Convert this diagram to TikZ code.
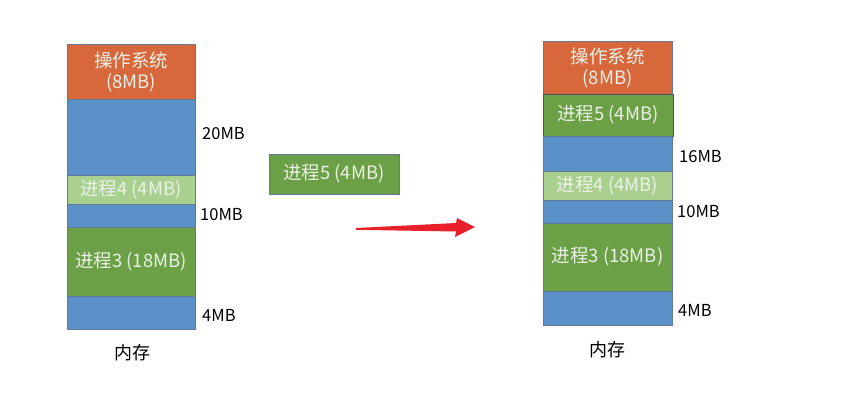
\documentclass[tikz,border=0pt]{standalone}
\usepackage{fontspec}
\setmainfont{Noto Sans CJK SC}
\definecolor{osorange}{RGB}{216,104,60}
\definecolor{freeblue}{RGB}{91,145,201}
\definecolor{procgreen}{RGB}{107,160,70}
\definecolor{lightgreen}{RGB}{170,208,143}
\definecolor{edgegray}{RGB}{100,120,150}
\definecolor{boxtext}{RGB}{236,241,232}
\definecolor{arrowred}{RGB}{232,32,42}
\begin{document}
\begin{tikzpicture}[x=1pt,y=-1pt,
  seg/.style={draw=edgegray,line width=0.6pt,inner sep=0pt,outer sep=0pt,
    text=boxtext,font=\fontsize{18.5}{21.5}\selectfont,align=center},
  osbox/.style={seg,fill=osorange},
  freebox/.style={seg,fill=freeblue},
  procbox/.style={seg,fill=procgreen},
  lightbox/.style={seg,fill=lightgreen},
  sizelabel/.style={anchor=west,inner sep=0pt,font=\fontsize{16.5}{19}\selectfont},
  memlabel/.style={inner sep=0pt,font=\fontsize{18}{21}\selectfont}]
\useasboundingbox (0,0) rectangle (858,410);
% left column
\node[osbox,minimum width=128pt,minimum height=55pt] (los) at (131,72) {操作系统\\(8MB)};
\node[freebox,minimum width=128pt,minimum height=76pt] (lf1) at (131,137) {};
\node[lightbox,minimum width=128pt,minimum height=29pt] (lp4) at (131,189.5) {进程4 (4MB)};
\node[freebox,minimum width=128pt,minimum height=23pt] (lf2) at (131,215.5) {};
\node[procbox,minimum width=128pt,minimum height=69pt] (lp3) at (131,261.5) {进程3 (18MB)};
\node[freebox,minimum width=128pt,minimum height=33pt] (lf3) at (131,312.5) {};
\node[sizelabel] (l20) at (202,134) {20MB};
\node[sizelabel] (l10) at (200,215) {10MB};
\node[sizelabel] (l4) at (202,315) {4MB};
\node[memlabel] (lmem) at (132,353) {内存};
% middle
\node[procbox,minimum width=130pt,minimum height=40pt] (mp5) at (334,174) {进程5 (4MB)};
\coordinate (atail) at (356,228);
\coordinate (atip) at (475,227);
\fill[arrowred] (atail) -- (456,223) -- (457,218) -- (atip) -- (455,237) -- (456,231.5) -- (356,229.8) -- cycle;
% right column
\node[osbox,minimum width=129pt,minimum height=53pt] (ros) at (607.5,68) {操作系统\\(8MB)};
\node[procbox,draw=edgegray!70!black,minimum width=130pt,minimum height=42pt] (rp5) at (608,115) {进程5 (4MB)};
\node[freebox,minimum width=129pt,minimum height=35pt] (rf1) at (607.5,153.5) {};
\node[lightbox,minimum width=129pt,minimum height=29pt] (rp4) at (607.5,185.5) {进程4 (4MB)};
\node[freebox,minimum width=129pt,minimum height=23pt] (rf2) at (607.5,211.5) {};
\node[procbox,minimum width=129pt,minimum height=68pt] (rp3) at (607.5,257) {进程3 (18MB)};
\node[freebox,minimum width=129pt,minimum height=34pt] (rf3) at (607.5,308) {};
\node[sizelabel] (r16) at (679,157) {16MB};
\node[sizelabel] (r10) at (677,212) {10MB};
\node[sizelabel] (r4) at (678,310) {4MB};
\node[memlabel] (rmem) at (607,350) {内存};
\end{tikzpicture}
\end{document}
